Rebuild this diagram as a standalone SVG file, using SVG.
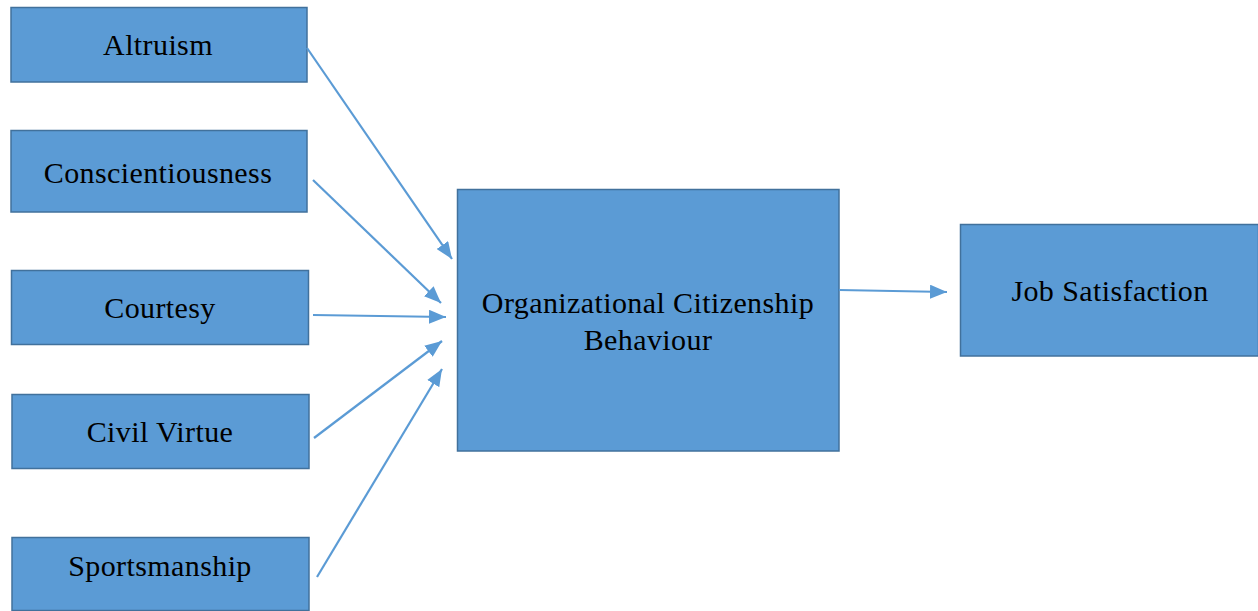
<svg xmlns="http://www.w3.org/2000/svg" width="1258" height="611" viewBox="0 0 1258 611">
  <style>
    .box { fill: #5B9BD5; stroke: #41719C; stroke-width: 1.5; }
    .label { font-family: "Liberation Serif", "Times New Roman", serif; font-size: 30px; letter-spacing: 0.4px; fill: #000; text-anchor: middle; }
    .link { stroke: #5B9BD5; stroke-width: 2.2; fill: none; marker-end: url(#arrow); }
  </style>
  <defs>
    <marker id="arrow" viewBox="0 0 17 14" refX="17" refY="7" markerWidth="17" markerHeight="14" markerUnits="userSpaceOnUse" orient="auto">
      <path d="M0,0 L17,7 L0,14 Z" fill="#5B9BD5"/>
    </marker>
  </defs>
  <rect width="1258" height="611" fill="#fff"/>

  <g id="node-altruism">
    <rect class="box" x="11" y="7.5" width="296" height="74.5"/>
    <text class="label" x="158" y="55">Altruism</text>
  </g>
  <g id="node-conscientiousness">
    <rect class="box" x="11" y="130.5" width="296" height="81.5"/>
    <text class="label" x="158" y="183">Conscientiousness</text>
  </g>
  <g id="node-courtesy">
    <rect class="box" x="11.5" y="270.5" width="297" height="74"/>
    <text class="label" x="160" y="318">Courtesy</text>
  </g>
  <g id="node-civil-virtue">
    <rect class="box" x="12" y="394.5" width="297" height="74"/>
    <text class="label" x="160" y="442">Civil Virtue</text>
  </g>
  <g id="node-sportsmanship">
    <rect class="box" x="12" y="537.5" width="297" height="73"/>
    <text class="label" x="160" y="576">Sportsmanship</text>
  </g>
  <g id="node-ocb">
    <rect class="box" x="457.5" y="189.5" width="381.5" height="261.5"/>
    <text class="label" x="648" y="313">Organizational Citizenship</text>
    <text class="label" x="648" y="350">Behaviour</text>
  </g>
  <g id="node-job-satisfaction">
    <rect class="box" x="960.5" y="224.5" width="298" height="131.5"/>
    <text class="label" x="1110" y="301">Job Satisfaction</text>
  </g>

  <g id="connectors">
    <line class="link" x1="307" y1="48" x2="452" y2="259"/>
    <line class="link" x1="313" y1="180" x2="441" y2="303"/>
    <line class="link" x1="313" y1="315" x2="446" y2="317"/>
    <line class="link" x1="314" y1="438" x2="442" y2="341"/>
    <line class="link" x1="317" y1="577" x2="442" y2="369"/>
    <line class="link" x1="839" y1="290" x2="947" y2="292"/>
  </g>
</svg>
